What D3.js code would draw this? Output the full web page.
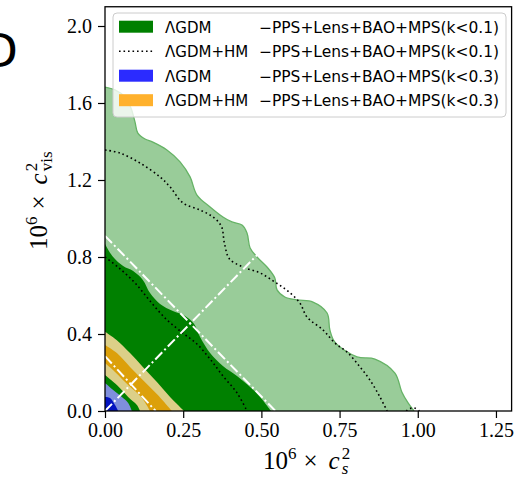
<!DOCTYPE html>
<html>
<head>
<meta charset="utf-8">
<script src="https://cdn.jsdelivr.net/npm/d3@7"></script>
<style>
  html, body { margin: 0; padding: 0; background: #ffffff; }
  svg { display: block; }
</style>
</head>
<body>
<svg id="chart" width="514" height="479"></svg>
<script>
// ---- axis ticks ----------------------------------------------------------
const xTicks = [0.00, 0.25, 0.50, 0.75, 1.00, 1.25];
const yTicks = [0.0, 0.4, 0.8, 1.2, 1.6, 2.0];
const xDomain = [0, 1.3];
const yDomain = [0, 2.1];

// ---- ΛGDM, PPS+Lens+BAO+MPS(k<0.1): 2σ and 1σ contours [c_s^2, c_vis^2] --
const gdmK01Outer = [
  [0.000, 1.683], [0.032, 1.668], [0.064, 1.631], [0.083, 1.574], [0.096, 1.501],
  [0.105, 1.444], [0.128, 1.413], [0.153, 1.397], [0.198, 1.356], [0.240, 1.294],
  [0.272, 1.216], [0.294, 1.122], [0.336, 1.060], [0.377, 1.008], [0.406, 0.982],
  [0.438, 0.966], [0.454, 0.925], [0.464, 0.847], [0.486, 0.800], [0.518, 0.748],
  [0.543, 0.691], [0.550, 0.629], [0.575, 0.592], [0.614, 0.577], [0.665, 0.566],
  [0.710, 0.509], [0.719, 0.421], [0.735, 0.358], [0.806, 0.281], [0.863, 0.270],
  [0.927, 0.197], [0.949, 0.099], [0.969, 0.042], [0.988, 0.000]
];
const gdmK01Inner = [
  [0.000, 0.868], [0.026, 0.800], [0.058, 0.753], [0.090, 0.727], [0.121, 0.681],
  [0.144, 0.613], [0.176, 0.556], [0.217, 0.519], [0.256, 0.494], [0.285, 0.452],
  [0.304, 0.384], [0.336, 0.301], [0.377, 0.234], [0.422, 0.182], [0.464, 0.125],
  [0.496, 0.073], [0.521, 0.021], [0.531, 0.000]
];

// ---- ΛGDM+HM, PPS+Lens+BAO+MPS(k<0.1): dotted contours --------------------
const hmK01Outer = [
  [0.000, 1.356], [0.048, 1.340], [0.112, 1.288], [0.176, 1.216], [0.208, 1.164],
  [0.249, 1.081], [0.304, 1.044], [0.345, 1.008], [0.372, 0.960], [0.382, 0.870],
  [0.398, 0.790], [0.441, 0.748], [0.496, 0.717], [0.543, 0.670], [0.585, 0.623],
  [0.623, 0.561], [0.646, 0.488], [0.697, 0.421], [0.735, 0.353], [0.774, 0.306],
  [0.815, 0.229], [0.847, 0.161], [0.879, 0.073], [0.902, 0.000]
];
const hmK01Island = [[0.963, 0.000], [0.975, 0.013], [0.992, 0.014], [1.005, 0.000]];
const hmK01Inner = [
  [0.000, 0.800], [0.045, 0.743], [0.096, 0.665], [0.144, 0.571], [0.198, 0.473],
  [0.249, 0.405], [0.294, 0.348], [0.336, 0.270], [0.377, 0.182], [0.422, 0.094],
  [0.454, 0.000]
];

// ---- ΛGDM+HM, PPS+Lens+BAO+MPS(k<0.3): banded 2σ / 1σ regions -----------
const hmK03Outer2 = [
  [0.000, 0.412], [0.037, 0.369], [0.080, 0.301], [0.121, 0.229], [0.166, 0.151],
  [0.208, 0.073], [0.253, 0.000]
];
const hmK03Outer1 = [
  [0.000, 0.343], [0.038, 0.301], [0.080, 0.229], [0.121, 0.161], [0.169, 0.083],
  [0.214, 0.000]
];
const hmK03Inner1 = [
  [0.000, 0.249], [0.032, 0.203], [0.074, 0.135], [0.118, 0.068], [0.144, 0.000]
];
const hmK03Inner2 = [
  [0.000, 0.187], [0.038, 0.135], [0.074, 0.073], [0.102, 0.031], [0.112, 0.000]
];

// ---- ΛGDM, PPS+Lens+BAO+MPS(k<0.3) ----------------------------------------
const gdmK03Outer = [
  [0.000, 0.145], [0.026, 0.109], [0.054, 0.073], [0.074, 0.042], [0.086, 0.000]
];
const gdmK03Inner = [
  [0.000, 0.073], [0.016, 0.068], [0.032, 0.031], [0.042, 0.000]
];

// ---- degeneracy directions (white dash-dot) -------------------------------
const guideLines = [
  [[0.000, 0.910], [0.545, 0.000]],
  [[0.000, 0.285], [0.162, 0.000]],
  [[0.000, 0.000], [0.486, 0.810]]
];

// ---- legend ----------------------------------------------------------------
const legendModels = ["ΛGDM", "ΛGDM+HM", "ΛGDM", "ΛGDM+HM"];
const legendData = [
  "−PPS+Lens+BAO+MPS(k<0.1)",
  "−PPS+Lens+BAO+MPS(k<0.1)",
  "−PPS+Lens+BAO+MPS(k<0.3)",
  "−PPS+Lens+BAO+MPS(k<0.3)"
];
const legendKinds = ["patch", "dotted", "patch", "patch"];
const legendColors = ["#008000", "#000000", "#2b2bff", "#ffb12d"];

// ---------------------------------------------------------------------------
const svg = d3.select("#chart");
const plot = { left: 105, right: 511.6, top: 6.75, bottom: 411 };

const x = d3.scaleLinear().domain(xDomain).range([plot.left, plot.right]);
const y = d3.scaleLinear().domain(yDomain).range([plot.bottom, plot.top]);

svg.append("defs").append("clipPath").attr("id", "plot-clip")
  .append("rect")
  .attr("x", plot.left).attr("y", plot.top)
  .attr("width", plot.right - plot.left).attr("height", plot.bottom - plot.top);

const g = svg.append("g").attr("clip-path", "url(#plot-clip)");

const curve = d3.line()
  .x(d => x(d[0])).y(d => y(d[1]))
  .curve(d3.curveCatmullRom.alpha(0.5));
const straight = d3.line().x(d => x(d[0])).y(d => y(d[1]));

// region bounded by a contour and the two axes (closed through the origin)
const region = pts => curve(pts) + `L${x(0)},${y(0)}Z`;
const band = (outer, inner) => region(outer) + region(inner);

// ΛGDM k<0.1
g.append("path").attr("d", region(gdmK01Outer)).attr("fill", "#99cc99");
g.append("path").attr("d", curve(gdmK01Outer))
  .attr("fill", "none").attr("stroke", "#66b366").attr("stroke-width", 1.3);
g.append("path").attr("d", region(gdmK01Inner)).attr("fill", "#008000");

// ΛGDM+HM k<0.1 (dotted)
[hmK01Outer, hmK01Inner, hmK01Island].forEach(c => {
  g.append("path").attr("d", curve(c))
    .attr("fill", "none").attr("stroke", "#000")
    .attr("stroke-width", 1.6).attr("stroke-dasharray", "1.6,2.9");
});

// ΛGDM+HM k<0.3
g.append("path").attr("d", band(hmK03Outer2, hmK03Inner2))
  .attr("fill", "#dccf88").attr("fill-rule", "evenodd");
g.append("path").attr("d", band(hmK03Outer1, hmK03Inner1))
  .attr("fill", "#dca00a").attr("fill-rule", "evenodd");

// ΛGDM k<0.3
g.append("path").attr("d", region(gdmK03Outer)).attr("fill", "#7f8fdc");
g.append("path").attr("d", region(gdmK03Inner)).attr("fill", "#0313c0");

// guide lines
guideLines.forEach(l => {
  g.append("path").attr("d", straight(l))
    .attr("fill", "none").attr("stroke", "#ffffff")
    .attr("stroke-width", 2).attr("stroke-dasharray", "10,3,2,3");
});

// ---- axes -------------------------------------------------------------------
const xAxis = svg.append("g")
  .attr("transform", `translate(0,${plot.bottom})`)
  .call(d3.axisBottom(x).tickValues(xTicks).tickFormat(d3.format(".2f"))
    .tickSize(7).tickPadding(5));
const yAxis = svg.append("g")
  .attr("transform", `translate(${plot.left},0)`)
  .call(d3.axisLeft(y).tickValues(yTicks).tickFormat(d3.format(".1f"))
    .tickSize(7).tickPadding(6));

[xAxis, yAxis].forEach(a => {
  a.select(".domain").remove();
  a.selectAll(".tick line").attr("stroke", "#000").attr("stroke-width", 1.2);
  a.selectAll(".tick text")
    .attr("font-family", "'Liberation Serif', 'Times New Roman', serif")
    .attr("font-size", 20).attr("fill", "#000");
});

svg.append("rect")
  .attr("x", plot.left).attr("y", plot.top)
  .attr("width", plot.right - plot.left).attr("height", plot.bottom - plot.top)
  .attr("fill", "none").attr("stroke", "#000").attr("stroke-width", 1.3);

// axis titles: 10^6 × c^2 with a stacked sub-/superscript
const serif = "'Liberation Serif', 'Times New Roman', serif";
function axisTitle(sel, sub, subItalic) {
  sel.attr("font-family", serif).attr("font-size", 25).attr("fill", "#000");
  sel.append("tspan").text("10");
  sel.append("tspan").attr("dy", -10).attr("font-size", 17).text("6");
  sel.append("tspan").attr("dx", 7).attr("dy", 10).text("×");
  sel.append("tspan").attr("dx", 11).attr("font-style", "italic").text("c");
  sel.append("tspan").attr("dx", 2).attr("dy", -10).attr("font-size", 17).text("2");
  sel.append("tspan").attr("dx", -8.5).attr("dy", 15).attr("font-size", 17)
    .attr("font-style", subItalic ? "italic" : "normal").text(sub);
}
axisTitle(svg.append("text").attr("x", 263).attr("y", 469), "s", true);
axisTitle(svg.append("text").attr("transform", "translate(47,250) rotate(-90)"), "vis", false);

// panel letter
svg.append("text")
  .attr("x", 18).attr("y", 67)
  .attr("text-anchor", "end")
  .attr("font-family", "'DejaVu Sans', sans-serif").attr("font-size", 47)
  .attr("fill", "#000").text("D");

// ---- legend -----------------------------------------------------------------
const lg = svg.append("g");
lg.append("rect")
  .attr("x", 113).attr("y", 13).attr("width", 393).attr("height", 104)
  .attr("rx", 4).attr("ry", 4)
  .attr("fill", "#ffffff").attr("fill-opacity", 0.8)
  .attr("stroke", "#cccccc").attr("stroke-width", 1);

legendModels.forEach((m, i) => {
  const cy = 26.7 + i * 24.5;
  if (legendKinds[i] === "patch") {
    lg.append("rect").attr("x", 119).attr("y", cy - 6).attr("width", 34).attr("height", 12)
      .attr("fill", legendColors[i]);
  } else {
    lg.append("line").attr("x1", 119).attr("x2", 153).attr("y1", cy).attr("y2", cy)
      .attr("stroke", legendColors[i]).attr("stroke-width", 1.6)
      .attr("stroke-dasharray", "1.6,2.9");
  }
  lg.append("text").attr("x", 165).attr("y", cy + 6)
    .attr("font-family", "'DejaVu Sans', sans-serif").attr("font-size", 15)
    .attr("fill", "#000").text(m);
  lg.append("text").attr("x", 259).attr("y", cy + 6)
    .attr("font-family", "'DejaVu Sans', sans-serif").attr("font-size", 15)
    .attr("textLength", 240).attr("lengthAdjust", "spacingAndGlyphs")
    .attr("fill", "#000").text(legendData[i]);
});
</script>
</body>
</html>
